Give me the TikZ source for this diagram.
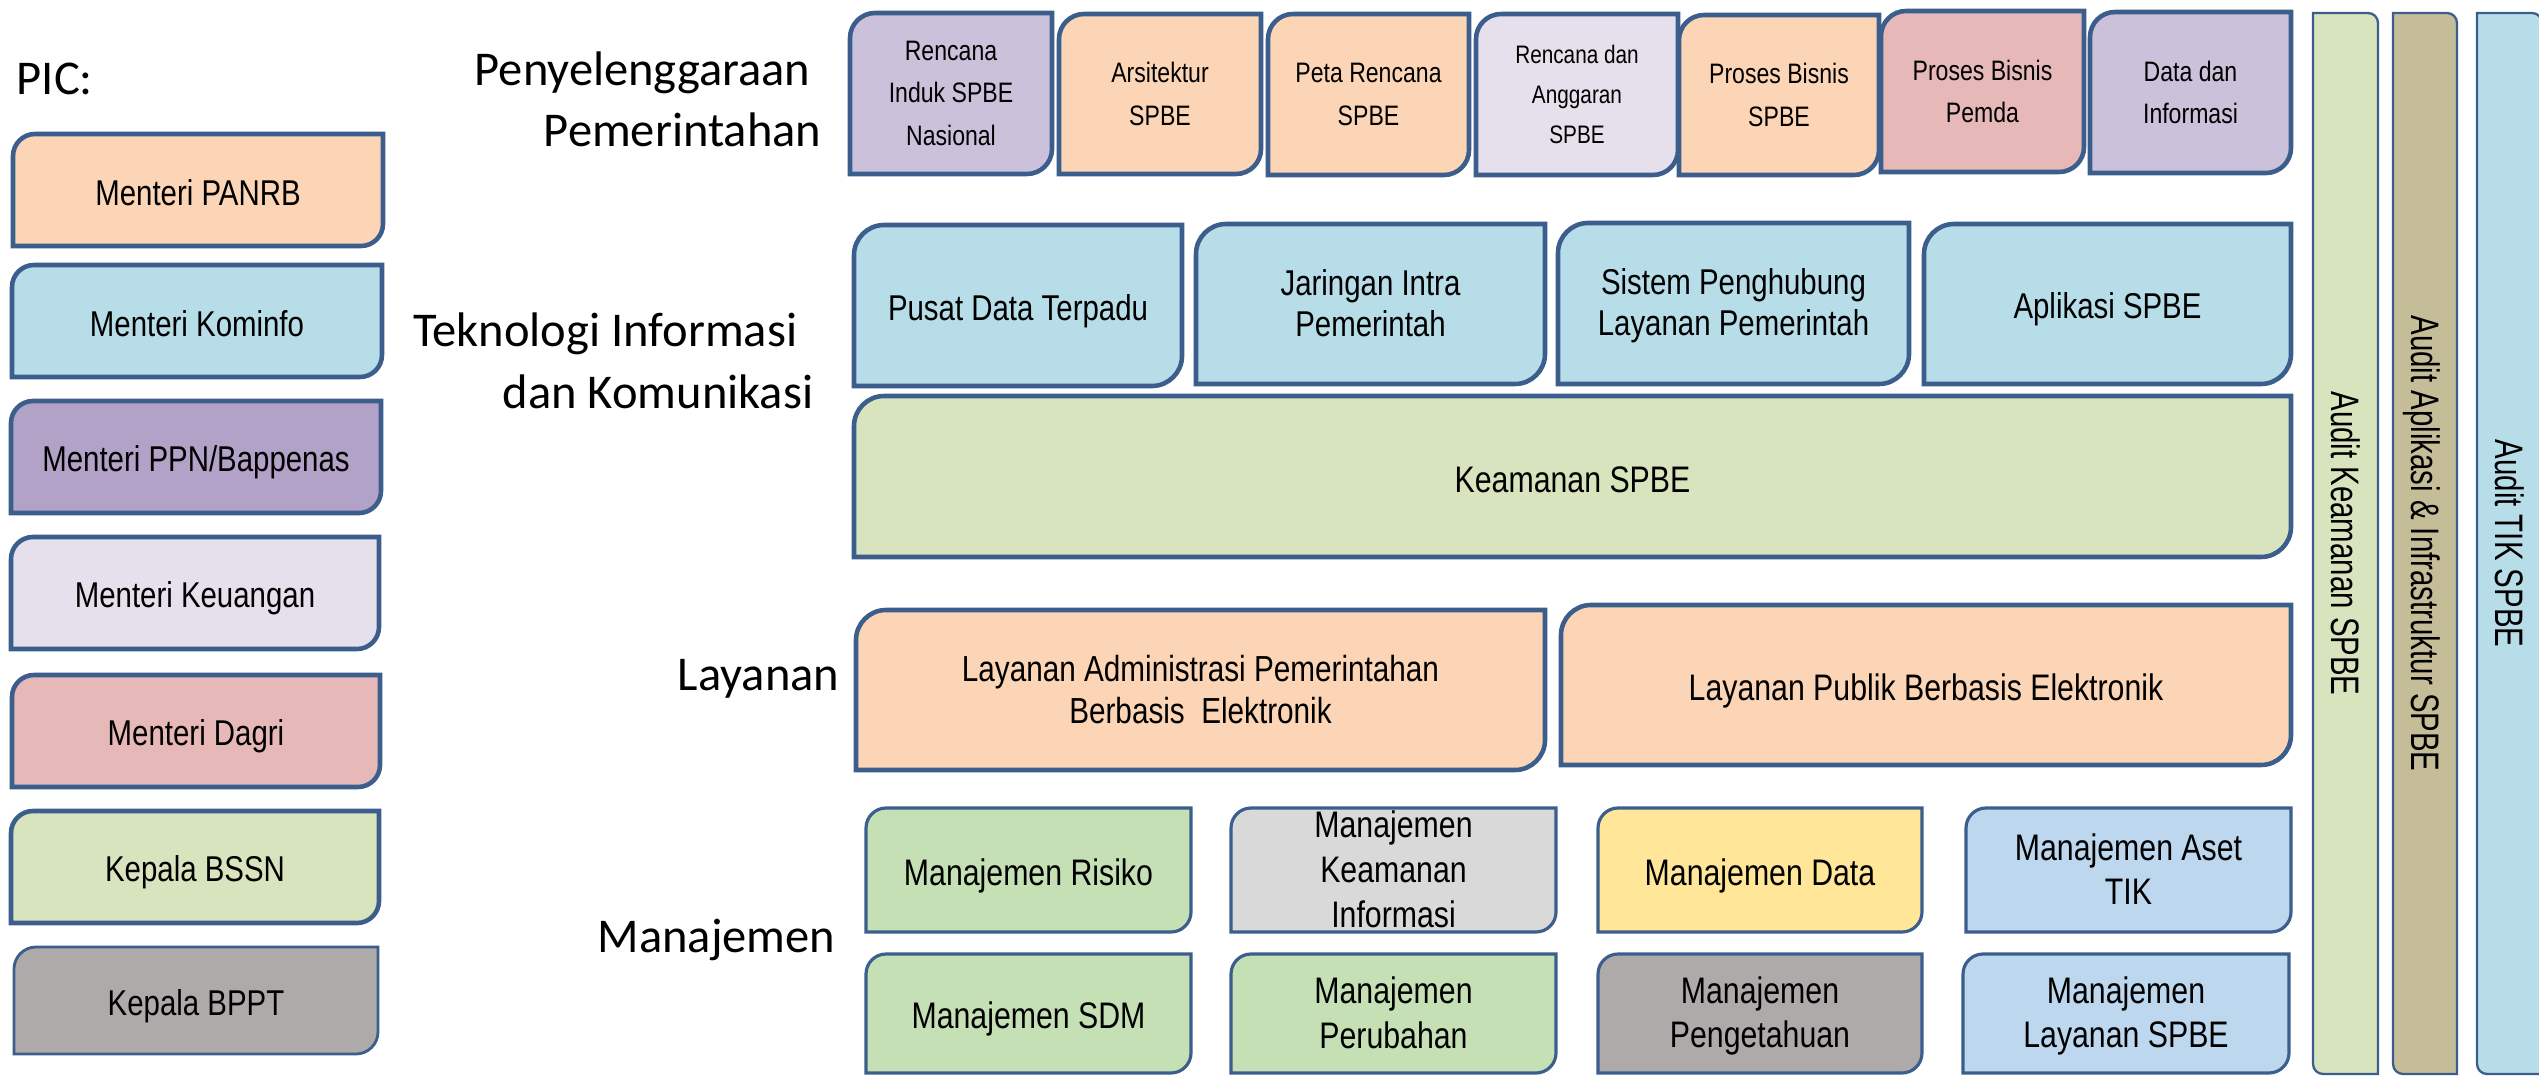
\documentclass[tikz,border=0pt]{standalone}
\usepackage{fontspec}
\setmainfont{Liberation Sans}
\newfontfamily\narrowfont[FakeStretch=0.82]{Liberation Sans}
\newfontfamily\barfont[FakeStretch=0.74]{Liberation Sans}
\newfontfamily\headfont{Carlito}

\definecolor{edge}{HTML}{3B5E8C}
\definecolor{cpeach}{HTML}{FBD5B5}
\definecolor{csky}{HTML}{B7DDE8}
\definecolor{cpurple}{HTML}{B3A2C7}
\definecolor{clilac}{HTML}{CCC1DA}
\definecolor{cmist}{HTML}{E6E0EC}
\definecolor{crose}{HTML}{E6B9B8}
\definecolor{clime}{HTML}{D7E4BD}
\definecolor{cstone}{HTML}{AEAAAA}
\definecolor{cleaf}{HTML}{C5E0B4}
\definecolor{csilver}{HTML}{D9D9D9}
\definecolor{cgold}{HTML}{FFE699}
\definecolor{cice}{HTML}{BDD7EE}
\definecolor{ctan}{HTML}{C4BD97}

\newcommand{\capstrut}{\rule[-0.19em]{0pt}{1.095em}}

\tikzset{
  boxline/.style={draw=edge, line width=1.3pt},
  boxtext/.style={align=center, inner sep=0pt, yshift=-0.7pt,
    font=\narrowfont\fontsize{10.2}{11.8}\selectfont,
    execute at begin node=\capstrut, execute at end node=\capstrut},
  heading/.style={anchor=base east, inner sep=0pt, font=\headfont\fontsize{13.8}{17}\selectfont},
  barline/.style={draw=edge, line width=0.65pt},
  bartext/.style={rotate=-90, inner sep=0pt, font=\barfont\fontsize{11.3}{13}\selectfont,
    execute at begin node=\capstrut, execute at end node=\capstrut},
}

\def\rad{25}
\def\brad{10}
% box with top-left and bottom-right corners rounded
\newcommand{\dbox}[8][]{%
  \draw[boxline, fill=#3] (#4,#7) -- (#4,{#5+\rad})
    .. controls (#4,{#5+0.45*\rad}) and ({#4+0.45*\rad},#5) .. ({#4+\rad},#5)
    -- (#6,#5) -- (#6,{#7-\rad})
    .. controls (#6,{#7-0.45*\rad}) and ({#6-0.45*\rad},#7) .. ({#6-\rad},#7)
    -- cycle;
  \node[boxtext, #1] (#2) at ({(#4+#6)/2},{(#5+#7)/2}) {#8};}
% upright bar with top-right and bottom-left corners rounded
\newcommand{\abar}[7]{%
  \draw[barline, fill=#2] (#3,#4) -- ({#5-\brad},#4)
    .. controls ({#5-0.45*\brad},#4) and (#5,{#4+0.45*\brad}) .. (#5,{#4+\brad})
    -- (#5,#6) -- ({#3+\brad},#6)
    .. controls ({#3+0.45*\brad},#6) and (#3,{#6-0.45*\brad}) .. (#3,{#6-\brad})
    -- cycle;
  \node[bartext] (#1) at ({(#3+#5)/2},{(#4+#6)/2}) {#7};}

\begin{document}
\begin{tikzpicture}[x=0.01cm, y=-0.01cm]
  \useasboundingbox (0,0) rectangle (2539,1076);
  \clip (0,0) rectangle (2539,1076);

  \node[heading, anchor=base west] (pic) at (16,95) {PIC:};
  \begin{scope}
    \def\rad{22}
    \dbox{pan}{cpeach}{13}{134}{383}{246}{Menteri PANRB}
    \dbox{kom}{csky}{12}{265}{382}{377}{Menteri Kominfo}
    \dbox{ppn}{cpurple}{11}{401}{381}{513}{Menteri PPN/Bappenas}
    \dbox{keu}{cmist}{11}{537}{379}{649}{Menteri Keuangan}
    \dbox{dag}{crose}{12}{675}{380}{787}{Menteri Dagri}
    \dbox{bsn}{clime}{11}{811}{379}{923}{Kepala BSSN}
  \end{scope}
  \begin{scope}[boxline/.append style={line width=0.8pt}]
    \def\rad{22}
    \dbox{bpp}{cstone}{14}{947}{378}{1054}{Kepala BPPT}
  \end{scope}

  \node[heading] (h1a) at (811,86) {Penyelenggaraan};
  \node[heading] (h1b) at (822,147) {Pemerintahan};
  \node[heading] (h2a) at (798,346) {Teknologi Informasi};
  \node[heading] (h2b) at (814,408) {dan Komunikasi};
  \node[heading] (h3) at (840,690) {Layanan};
  \node[heading] (h4) at (836,952) {Manajemen};

  \begin{scope}[boxtext/.append style={font=\narrowfont\fontsize{8}{12}\selectfont}]
    \dbox{rin}{clilac}{850}{13}{1052}{174}{Rencana\\Induk SPBE\\Nasional}
    \dbox{ars}{cpeach}{1059}{14}{1261}{174}{Arsitektur\\SPBE}
    \dbox{peta}{cpeach}{1268}{14}{1469}{175}{Peta Rencana\\SPBE}
    \dbox[font=\narrowfont\fontsize{7.2}{11.3}\selectfont]{ang}{cmist}{1476}{14}{1678}{175}{Rencana dan\\Anggaran\\SPBE}
    \dbox{pbs}{cpeach}{1679}{15}{1879}{175}{Proses Bisnis\\SPBE}
    \dbox{pbp}{crose}{1881}{11}{2084}{172}{Proses Bisnis\\Pemda}
    \dbox{dat}{clilac}{2090}{12}{2291}{173}{Data dan\\Informasi}
  \end{scope}

  \begin{scope}
    \def\rad{30}
    \dbox{pdt}{csky}{854}{225}{1182}{386}{Pusat Data Terpadu}
    \dbox{jip}{csky}{1196}{224}{1545}{384}{Jaringan Intra\\Pemerintah}
    \dbox{sph}{csky}{1558}{223}{1909}{384}{Sistem Penghubung\\Layanan Pemerintah}
    \dbox{apl}{csky}{1924}{224}{2291}{384}{Aplikasi SPBE}
    \dbox[font=\narrowfont\fontsize{10.5}{12}\selectfont]{kam}{clime}{854}{396}{2291}{557}{Keamanan SPBE}
    \dbox[font=\narrowfont\fontsize{10.3}{12}\selectfont]{lap}{cpeach}{856}{610}{1545}{770}{Layanan Administrasi Pemerintahan\\Berbasis~~Elektronik}
    \dbox[font=\narrowfont\fontsize{10.5}{12}\selectfont]{lpb}{cpeach}{1561}{605}{2291}{765}{Layanan Publik Berbasis Elektronik}
  \end{scope}

  \begin{scope}[boxline/.append style={line width=0.9pt},
      boxtext/.append style={font=\narrowfont\fontsize{10.5}{12.7}\selectfont}]
    \def\rad{20}
    \dbox{mr}{cleaf}{866}{808}{1191}{932}{Manajemen Risiko}
    \dbox{mki}{csilver}{1231}{808}{1556}{932}{Manajemen\\Keamanan\\Informasi}
    \dbox{md}{cgold}{1598}{808}{1922}{932}{Manajemen Data}
    \dbox{mat}{cice}{1966}{808}{2291}{932}{Manajemen Aset\\TIK}
    \dbox{msd}{cleaf}{866}{954}{1191}{1073}{Manajemen SDM}
    \dbox{mp}{cleaf}{1231}{954}{1556}{1073}{Manajemen\\Perubahan}
    \dbox{mpg}{cstone}{1598}{954}{1922}{1073}{Manajemen\\Pengetahuan}
    \dbox{mls}{cice}{1963}{954}{2289}{1073}{Manajemen\\Layanan SPBE}
  \end{scope}

  \abar{ak}{clime}{2313}{13}{2378}{1074}{Audit Keamanan SPBE}
  \abar{aai}{ctan}{2393}{13}{2457}{1074}{Audit Aplikasi \& Infrastruktur SPBE}
  \abar{atik}{csky}{2477}{13}{2542}{1074}{Audit TIK SPBE}
\end{tikzpicture}
\end{document}
